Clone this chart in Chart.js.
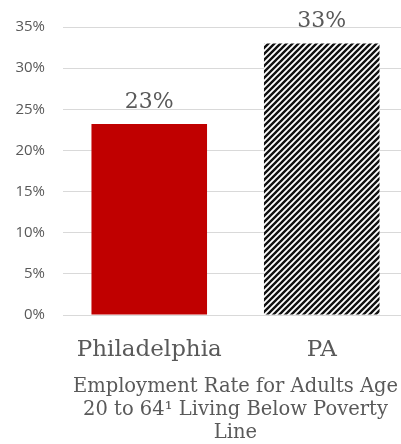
<!DOCTYPE html>
<html>
<head>
<meta charset="utf-8">
<script src="https://cdn.jsdelivr.net/npm/chart.js@4.4.1/dist/chart.umd.min.js"></script>
<style>
  html, body { margin: 0; padding: 0; background: #fff; overflow: hidden; }
  #wrap { width: 401px; height: 444px; overflow: hidden; }
</style>
</head>
<body>
<div id="wrap"><canvas id="myChart" width="408" height="444"></canvas></div>
<script>
const categories = ['Philadelphia', 'PA']
const rates = [23.2, 33]
const rateLabels = ['23%', '33%']
const yTicks = [0, 5, 10, 15, 20, 25, 30, 35]
const axisTitle = ['Employment Rate for Adults Age', '20 to 64\u00b9 Living Below Poverty', 'Line']

const grey = '#595959'
const serif = '"DejaVu Serif", "Liberation Serif", serif'

// diagonal black/white stripes for the state bar
function hatch() {
	const size = 6
	const c = document.createElement('canvas')
	c.width = size
	c.height = size
	const g = c.getContext('2d')
	g.fillStyle = '#fff'
	g.fillRect(0, 0, size, size)
	g.strokeStyle = '#111'
	g.lineWidth = 2.4
	g.beginPath()
	g.moveTo(-1, size + 1); g.lineTo(size + 1, -1)
	g.moveTo(-1, 1); g.lineTo(1, -1)
	g.moveTo(size - 1, size + 1); g.lineTo(size + 1, size - 1)
	g.stroke()
	return g.createPattern(c, 'repeat')
}

// value labels above each bar
const barLabels = {
	id: 'barLabels',
	afterDatasetsDraw(chart) {
		const ctx = chart.ctx
		ctx.save()
		ctx.font = '22px ' + serif
		ctx.fillStyle = grey
		ctx.textAlign = 'center'
		ctx.textBaseline = 'alphabetic'
		chart.getDatasetMeta(0).data.forEach((bar, i) => {
			ctx.fillText(rateLabels[i], bar.x, bar.y - 16)
		})
		ctx.restore()
	}
}

new Chart(document.getElementById('myChart'), {
	type: 'bar',
	data: {
		labels: categories,
		datasets: [
			{
				data: rates,
				backgroundColor: ['#c00000', hatch()],
				borderWidth: 0,
				barPercentage: 0.67,
				categoryPercentage: 1,
			},
		],
	},
	options: {
		responsive: false,
		animation: false,
		layout: {
			padding: { top: 22, left: 0, right: 0, bottom: 0 }
		},
		plugins: {
			legend: { display: false },
			tooltip: { enabled: false }
		},
		scales: {
			y: {
				min: 0,
				max: 35,
				afterBuildTicks: scale => {
					scale.ticks = yTicks.map(v => ({ value: v }))
				},
				afterFit: scale => { scale.width = 63 },
				grid: { color: '#d9d9d9', lineWidth: 1, drawTicks: false },
				border: { display: false },
				ticks: {
					padding: 18,
					color: grey,
					font: { family: '"Open Sans", "Noto Sans", sans-serif', size: 15 },
					callback: v => v + '%'
				}
			},
			x: {
				afterFit: scale => { scale.height = 129 },
				grid: { display: false, drawTicks: false },
				border: { display: false },
				ticks: {
					padding: 21,
					color: grey,
					font: { family: serif, size: 23 }
				},
				title: {
					display: true,
					text: axisTitle,
					color: grey,
					padding: { top: 4, bottom: 0 },
					font: { family: serif, size: 19.5, lineHeight: 1.18 }
				}
			}
		}
	},
	plugins: [barLabels]
})
</script>
</body>
</html>
